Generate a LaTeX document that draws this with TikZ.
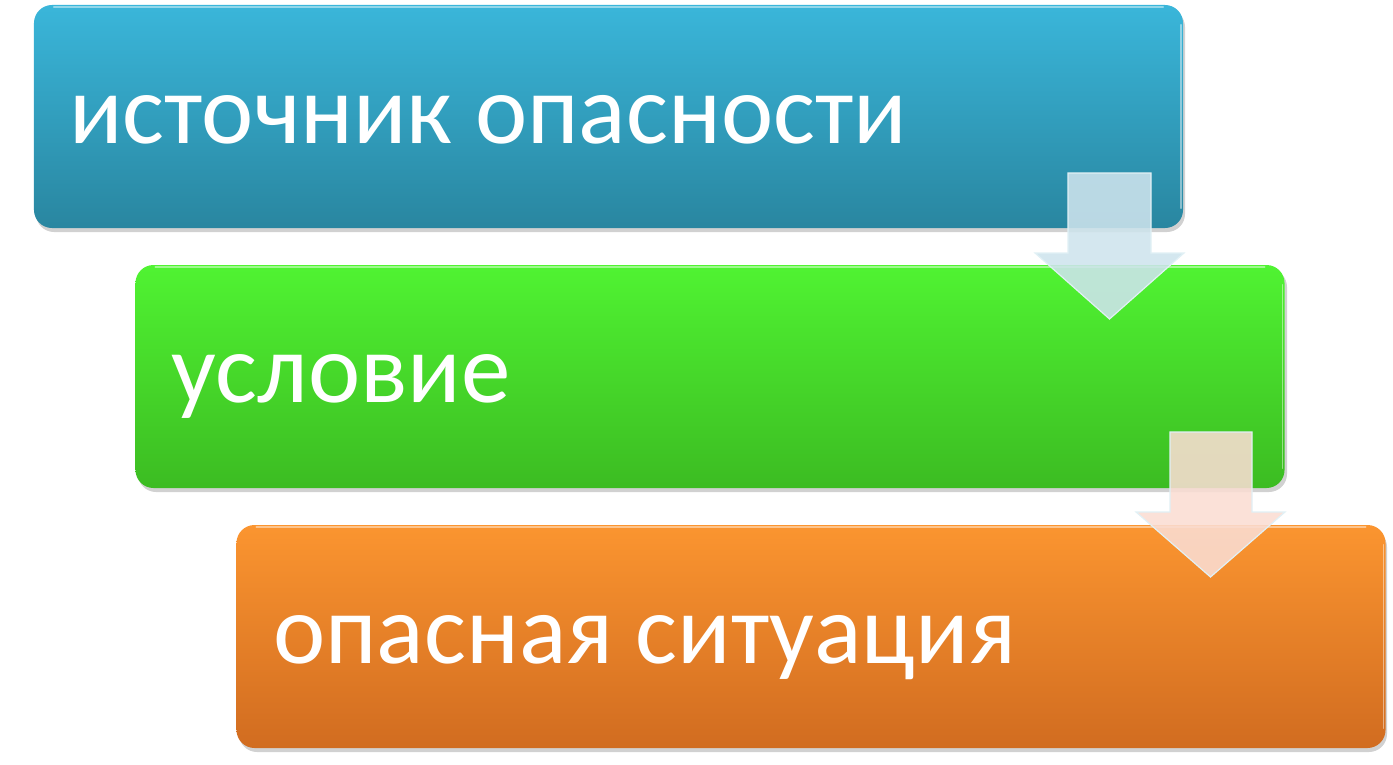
\documentclass[tikz,border=0pt]{standalone}
\usepackage{fontspec}
\setmainfont{Carlito}
\definecolor{blueTop}{RGB}{58,182,218}
\definecolor{blueBot}{RGB}{41,134,160}
\definecolor{greenTop}{RGB}{80,243,50}
\definecolor{greenBot}{RGB}{60,188,34}
\definecolor{orangeTop}{RGB}{251,149,48}
\definecolor{orangeBot}{RGB}{209,108,32}
\definecolor{arrowBlue}{RGB}{206,228,237}
\definecolor{arrowPeach}{RGB}{250,221,211}
\definecolor{arrowEdge}{RGB}{225,240,245}
\tikzset{
  box/.style={rectangle, rounded corners=18bp, minimum width=1149bp, minimum height=223bp, inner sep=0pt},
  boxshadow/.style={fill=black, opacity=0.18, rounded corners=18bp},
  label/.style={anchor=base west, inner sep=0pt, text=white, font=\fontsize{99bp}{110bp}\selectfont},
  flowarrow/.style={draw=arrowEdge, line width=1.2bp, line join=miter, fill opacity=0.88},
  gloss/.style={draw=white, opacity=0.45, line width=1.5bp, line cap=round}
}
\begin{document}
\begin{tikzpicture}[x=1bp,y=-1bp]
\useasboundingbox (0,0) rectangle (1393,764);
% shadows
\fill[boxshadow] (36,9) rectangle (1185,232);
\fill[boxshadow] (138,269) rectangle (1287,492);
\fill[boxshadow] (239,529) rectangle (1387,752);
% boxes
\node[box, top color=blueTop, bottom color=blueBot] (b1) at (608.5,116.5) {};
\node[box, top color=greenTop, bottom color=greenBot] (b2) at (710,376.5) {};
\node[box, top color=orangeTop, bottom color=orangeBot] (b3) at (811,636.5) {};
% gloss rims
\draw[gloss] ([xshift=20bp,yshift=-2bp]b1.north west) -- ([xshift=-20bp,yshift=-2bp]b1.north east);
\draw[gloss] ([xshift=20bp,yshift=-2bp]b2.north west) -- ([xshift=-20bp,yshift=-2bp]b2.north east);
\draw[gloss] ([xshift=20bp,yshift=-2bp]b3.north west) -- ([xshift=-20bp,yshift=-2bp]b3.north east);
\draw[gloss] ([xshift=-2bp,yshift=-20bp]b1.north east) -- ([xshift=-2bp,yshift=20bp]b1.south east);
\draw[gloss] ([xshift=-2bp,yshift=-20bp]b2.north east) -- ([xshift=-2bp,yshift=20bp]b2.south east);
\draw[gloss] ([xshift=-2bp,yshift=-20bp]b3.north east) -- ([xshift=-2bp,yshift=20bp]b3.south east);
% texts
\node[label] (t1) at (69,143) {источник опасности};
\node[label] (t2) at (171,402) {условие};
\node[label] (t3) at (273,663) {опасная ситуация};
% arrows
\coordinate (a1) at (1109.5,173);
\coordinate (a2) at (1211,432);
\filldraw[flowarrow, fill=arrowBlue] (a1) ++(-41.5,0) -- ++(83,0) -- ++(0,80) -- ++(33,0) -- ++(-74.5,66) -- ++(-74.5,-66) -- ++(33,0) -- cycle;
\filldraw[flowarrow, fill=arrowPeach] (a2) ++(-41,0) -- ++(82,0) -- ++(0,80) -- ++(33,0) -- ++(-74.5,65) -- ++(-74.5,-65) -- ++(34,0) -- cycle;
\end{tikzpicture}
\end{document}
